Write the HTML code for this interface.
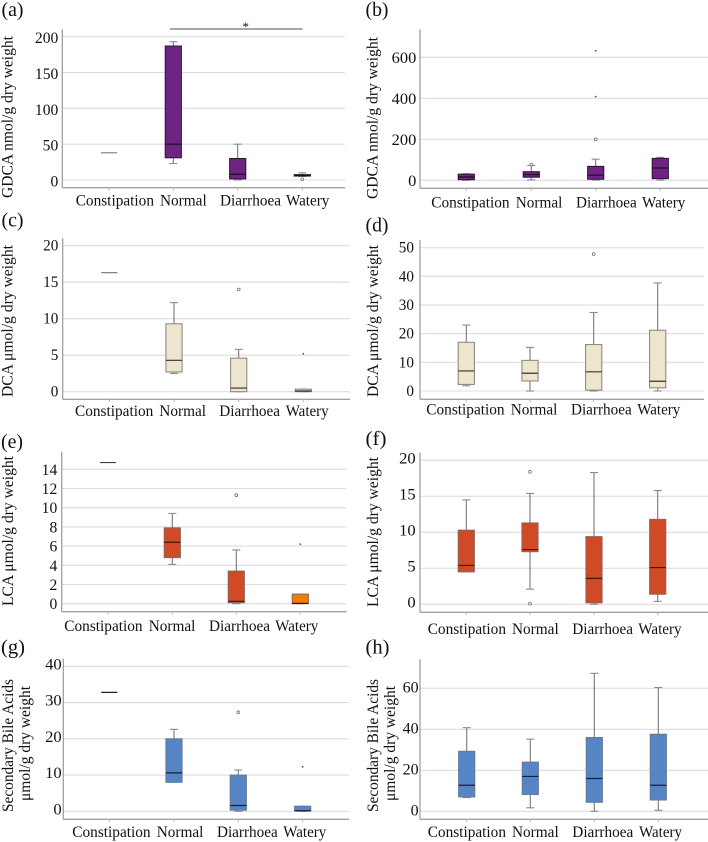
<!DOCTYPE html>
<html lang="en">
<head>
<meta charset="utf-8">
<title>Bile acid box plots</title>
<style>
html,body{margin:0;padding:0;background:#fff;}
#figure{display:block;width:708px;height:842px;font-family:"Liberation Serif",serif;fill:#111;filter:blur(0.35px);}
#figure text{font-family:"Liberation Serif",serif;fill:#111;}
</style>
</head>
<body>
<svg id="figure" width="708" height="842" viewBox="0 0 708 842" xmlns="http://www.w3.org/2000/svg">
  <text x="1.5" y="16" font-size="20" textLength="22" lengthAdjust="spacingAndGlyphs">(a)</text>
  <text x="365.5" y="16" font-size="20" textLength="23" lengthAdjust="spacingAndGlyphs">(b)</text>
  <text x="1.5" y="226.5" font-size="20" textLength="22" lengthAdjust="spacingAndGlyphs">(c)</text>
  <text x="365.5" y="231.5" font-size="20" textLength="23" lengthAdjust="spacingAndGlyphs">(d)</text>
  <text x="1" y="448" font-size="20" textLength="22" lengthAdjust="spacingAndGlyphs">(e)</text>
  <text x="365.5" y="445" font-size="20" textLength="21" lengthAdjust="spacingAndGlyphs">(f)</text>
  <text x="1" y="653.5" font-size="20" textLength="24" lengthAdjust="spacingAndGlyphs">(g)</text>
  <text x="365.5" y="653.5" font-size="20" textLength="24" lengthAdjust="spacingAndGlyphs">(h)</text>

  <text transform="translate(12.5,198) rotate(-90)" font-size="15.5" textLength="162" lengthAdjust="spacingAndGlyphs">GDCA nmol/g dry weight</text>
  <text transform="translate(377.5,199) rotate(-90)" font-size="15.5" textLength="162" lengthAdjust="spacingAndGlyphs">GDCA nmol/g dry weight</text>
  <text transform="translate(12.5,397) rotate(-90)" font-size="15.5" textLength="152" lengthAdjust="spacingAndGlyphs">DCA μmol/g dry weight</text>
  <text transform="translate(378,397) rotate(-90)" font-size="15.5" textLength="152" lengthAdjust="spacingAndGlyphs">DCA μmol/g dry weight</text>
  <text transform="translate(13,606) rotate(-90)" font-size="15.5" textLength="150" lengthAdjust="spacingAndGlyphs">LCA μmol/g dry weight</text>
  <text transform="translate(378,607) rotate(-90)" font-size="15.5" textLength="150" lengthAdjust="spacingAndGlyphs">LCA μmol/g dry weight</text>
  <text transform="translate(13,812) rotate(-90)" font-size="15.5" textLength="133" lengthAdjust="spacingAndGlyphs">Secondary Bile Acids</text>
  <text transform="translate(30,801) rotate(-90)" font-size="15.5" textLength="115" lengthAdjust="spacingAndGlyphs">μmol/g dry weight</text>
  <text transform="translate(378,812) rotate(-90)" font-size="15.5" textLength="133" lengthAdjust="spacingAndGlyphs">Secondary Bile Acids</text>
  <text transform="translate(395,801) rotate(-90)" font-size="15.5" textLength="115" lengthAdjust="spacingAndGlyphs">μmol/g dry weight</text>

  <line x1="170" y1="29" x2="302.7" y2="29" stroke="#8c8c8c" stroke-width="1.4"/>
  <text x="245.7" y="31" font-size="13" text-anchor="middle">*</text>
</svg>
<script>
const categories = ['Constipation', 'Normal', 'Diarrhoea', 'Watery'];

const ticksA = [0, 50, 100, 150, 200];
const whiskerLowA = [38, 23, 0, 5];
const q1A = [38, 31, 1.5, 5.5];
const medianA = [38, 50, 8, 6.5];
const q3A = [38, 187, 30, 7.5];
const whiskerHighA = [38, 193, 50, 10];
const circlesA = [[], [], [], [1]];
const starsA = [[], [], [], []];

const ticksB = [0, 200, 400, 600];
const whiskerLowB = [0, 2, 1, 1];
const q1B = [3, 15, 5, 8];
const medianB = [16, 28, 25, 60];
const q3B = [30, 42, 68, 107];
const whiskerHighB = [32, 72, 103, 112];
const circlesB = [[], [77], [200], []];
const starsB = [[], [], [408, 632], []];

const ticksC = [0, 5, 10, 15, 20];
const whiskerLowC = [16.3, 2.5, 0, 0];
const q1C = [16.3, 2.7, 0, 0];
const medianC = [16.3, 4.3, 0.5, 0.1];
const q3C = [16.3, 9.3, 4.6, 0.35];
const whiskerHighC = [16.3, 12.2, 5.8, 0.35];
const circlesC = [[], [], [14], []];
const starsC = [[], [], [], [5.2]];

const ticksD = [0, 10, 20, 30, 40, 50];
const whiskerLowD = [1.8, 0, 0, 0];
const q1D = [2.3, 3.5, 0.3, 1.1];
const medianD = [7, 6.2, 6.7, 3.4];
const q3D = [17, 10.7, 16.2, 21.2];
const whiskerHighD = [23, 15.2, 27.4, 37.7];
const circlesD = [[], [], [47.8], []];
const starsD = [[], [], [], []];

const ticksE = [0, 2, 4, 6, 8, 10, 12, 14];
const whiskerLowE = [14.7, 4.1, 0, 0];
const q1E = [14.7, 4.8, 0.1, 0];
const medianE = [14.7, 6.4, 0.25, 0.03];
const q3E = [14.7, 7.9, 3.4, 1];
const whiskerHighE = [14.7, 9.4, 5.6, 1];
const circlesE = [[], [], [11.3], []];
const starsE = [[], [], [], [6.2]];

const ticksF = [0, 5, 10, 15, 20];
const whiskerLowF = [4.5, 2.1, 0, 0.4];
const q1F = [4.5, 7.3, 0.2, 1.4];
const medianF = [5.4, 7.6, 3.6, 5.1];
const q3F = [10.3, 11.3, 9.4, 11.8];
const whiskerHighF = [14.5, 15.4, 18.3, 15.8];
const circlesF = [[], [18.4, 0.1], [], []];
const starsF = [[], [], [], []];

const ticksG = [0, 10, 20, 30, 40];
const whiskerLowG = [32.8, 8, 0, 0];
const q1G = [32.8, 8, 0.3, 0.1];
const medianG = [32.8, 10.6, 1.6, 0.15];
const q3G = [32.8, 20, 10, 1.4];
const whiskerHighG = [32.8, 22.6, 11.4, 1.4];
const circlesG = [[], [], [27.3], []];
const starsG = [[], [], [], [12.3]];

const ticksH = [0, 20, 40, 60];
const whiskerLowH = [6.7, 1.7, 0, 0.5];
const q1H = [7, 8.2, 4.4, 5.5];
const medianH = [12.7, 17, 16, 12.7];
const q3H = [29.3, 24, 36, 37.6];
const whiskerHighH = [40.8, 35.2, 67.3, 60.4];
const circlesH = [[], [], [], []];
const starsH = [[], [], [], []];

const PURPLE = {fill: '#6f2382', edge: '#2c1435', med: '#1e0c28'};
const BEIGE = {fill: '#ede5cd', edge: '#85817a', med: '#3d3229'};
const RED = {fill: '#cf4a25', edge: '#8a6660', med: '#4d1508'};
const BLUE = {fill: '#5585c5', edge: '#667a96', med: '#101f3a'};

const panels = [
  {id: 'a', ticks: ticksA, low: whiskerLowA, q1: q1A, med: medianA, q3: q3A, high: whiskerHighA, circles: circlesA, stars: starsA,
   axisX: 62.3, top: 29.5, bottom: 187.7, right: 345, zeroY: 180, maxY: 36.7, centers: [109, 173.3, 237.7, 302.3],
   spans: [[75.7, 78.3], [160, 46.7], [220, 61], [286, 43.3]], base: 205.7, tickRight: 58.3, digit: 7.8, tickDy: 1.5, color: PURPLE, single: '#8a8a8a'},
  {id: 'b', ticks: ticksB, low: whiskerLowB, q1: q1B, med: medianB, q3: q3B, high: whiskerHighB, circles: circlesB, stars: starsB,
   axisX: 420, top: 29.3, bottom: 188.3, right: 708, zeroY: 180.3, maxY: 57.3, centers: [466.3, 531.3, 595.7, 660.3],
   spans: [[431.3, 78.3], [515.7, 46.7], [576, 60.7], [642, 43.3]], base: 207.7, tickRight: 416.3, digit: 8.2, tickDy: 0.5, color: PURPLE, single: '#8a8a8a'},
  {id: 'c', ticks: ticksC, low: whiskerLowC, q1: q1C, med: medianC, q3: q3C, high: whiskerHighC, circles: circlesC, stars: starsC,
   axisX: 62.7, top: 238.3, bottom: 399.3, right: 350, zeroY: 391.7, maxY: 245.7, centers: [109.3, 174, 238.7, 303.3],
   spans: [[75, 78.3], [159.3, 46.7], [219.3, 60.7], [285.7, 43]], base: 416, tickRight: 58.3, digit: 7.6, tickDy: 0, color: BEIGE, single: '#77736e'},
  {id: 'd', ticks: ticksD, low: whiskerLowD, q1: q1D, med: medianD, q3: q3D, high: whiskerHighD, circles: circlesD, stars: starsD,
   axisX: 420, top: 240, bottom: 399.3, right: 704, zeroY: 391, maxY: 247.7, centers: [466.3, 530, 593.7, 657.7],
   spans: [[426.3, 78.3], [510.7, 46.7], [571, 60.7], [637.3, 43]], base: 414.3, tickRight: 414, digit: 7.6, tickDy: 0, color: BEIGE, single: '#77736e'},
  {id: 'e', ticks: ticksE, low: whiskerLowE, q1: q1E, med: medianE, q3: q3E, high: whiskerHighE, circles: circlesE, stars: starsE,
   axisX: 61.7, top: 451.7, bottom: 611.7, right: 346.7, zeroY: 603.7, maxY: 469.3, centers: [108, 172.3, 236.3, 300.3],
   spans: [[64.3, 78.3], [148.7, 46.7], [209, 61], [275.3, 43]], base: 631, tickRight: 57.3, digit: 7.8, tickDy: 0.5, color: RED, single: '#444444', overrideFill: {3: '#ec8000'}},
  {id: 'f', ticks: ticksF, low: whiskerLowF, q1: q1F, med: medianF, q3: q3F, high: whiskerHighF, circles: circlesF, stars: starsF,
   axisX: 420, top: 452.7, bottom: 612.3, right: 708, zeroY: 604.3, maxY: 460.3, centers: [466.3, 530, 594, 657.7],
   spans: [[427.7, 78.3], [512, 46.7], [572.3, 60.7], [638.3, 43.3]], base: 634, tickRight: 415.7, digit: 8.3, tickDy: -2, color: RED, single: '#444444'},
  {id: 'g', ticks: ticksG, low: whiskerLowG, q1: q1G, med: medianG, q3: q3G, high: whiskerHighG, circles: circlesG, stars: starsG,
   axisX: 63.3, top: 658.7, bottom: 819.3, right: 349, zeroY: 811.3, maxY: 666.3, centers: [109.3, 174, 238.3, 302.7],
   spans: [[72.3, 78.3], [156.7, 46.7], [217, 60.7], [283.3, 43]], base: 837, tickRight: 61.7, digit: 8.3, tickDy: -2, color: BLUE, single: '#222222'},
  {id: 'h', ticks: ticksH, low: whiskerLowH, q1: q1H, med: medianH, q3: q3H, high: whiskerHighH, circles: circlesH, stars: starsH,
   axisX: 420, top: 659.3, bottom: 819.3, right: 708, zeroY: 811.3, maxY: 688.3, centers: [466.7, 530.3, 594.3, 658.3],
   spans: [[427.7, 78.3], [512, 46.7], [572.3, 61], [639, 43]], base: 837, tickRight: 418.7, digit: 8, tickDy: -1, color: BLUE, single: '#222222'}
];

const NS = 'http://www.w3.org/2000/svg';
const figure = document.getElementById('figure');

function shape(parent, tag, attrs) {
  const el = document.createElementNS(NS, tag);
  for (const key in attrs) el.setAttribute(key, attrs[key]);
  parent.appendChild(el);
  return el;
}

function drawPanel(p) {
  const group = shape(figure, 'g', {});
  
  

  const domainMax = p.ticks[p.ticks.length - 1];
  const yScale = function (v) { return p.zeroY - (v / domainMax) * (p.zeroY - p.maxY); };
  const xScale = function (i) { return p.centers[i]; };

  p.ticks.forEach(function (t) {
    const grid = shape(group, 'line', {x1: p.axisX, x2: p.right, y1: yScale(t), y2: yScale(t), stroke: '#dcdce2', 'stroke-width': 1.1});
    
    
    const label = String(t);
    const width = p.digit * label.length;
    const tickText = shape(group, 'text', {x: p.tickRight - width, y: yScale(t) + 5 + p.tickDy, 'font-size': 15.5, textLength: width, lengthAdjust: 'spacingAndGlyphs'});
    tickText.textContent = label;
    
    
  });

  const yAxis = shape(group, 'line', {x1: p.axisX, x2: p.axisX, y1: p.top, y2: p.bottom, stroke: '#a0a0a4', 'stroke-width': 1.3});
  
  
  const xAxis = shape(group, 'line', {x1: p.axisX, x2: p.right, y1: p.bottom, y2: p.bottom, stroke: '#a0a0a4', 'stroke-width': 1.3});
  
  

  categories.forEach(function (name, i) {
    const cx = xScale(i);
    const tick = shape(group, 'line', {x1: cx, x2: cx, y1: p.bottom, y2: p.bottom + 3, stroke: '#b8b8bc', 'stroke-width': 1});
    
    

    const catText = shape(group, 'text', {x: p.spans[i][0], y: p.base, 'font-size': 15.5, textLength: p.spans[i][1], lengthAdjust: 'spacingAndGlyphs'});
    catText.textContent = name;
    
    

    const isSingle = p.q1[i] === p.q3[i] && p.low[i] === p.high[i];
    const halfBox = 8.1;
    const halfCap = 4;
    const fill = (p.overrideFill && p.overrideFill[i]) || p.color.fill;

    if (!isSingle) {
      const stem = shape(group, 'line', {x1: cx, x2: cx, y1: yScale(p.low[i]), y2: yScale(p.high[i]), stroke: '#77777c', 'stroke-width': 1.1});
      
      
      const capHigh = shape(group, 'line', {x1: cx - halfCap, x2: cx + halfCap, y1: yScale(p.high[i]), y2: yScale(p.high[i]), stroke: '#8a8a90', 'stroke-width': 1.1});
      
      
      const capLow = shape(group, 'line', {x1: cx - halfCap, x2: cx + halfCap, y1: yScale(p.low[i]), y2: yScale(p.low[i]), stroke: '#8a8a90', 'stroke-width': 1.1});
      
      
      const box = shape(group, 'rect', {x: cx - halfBox, y: yScale(p.q3[i]), width: halfBox * 2, height: Math.abs(yScale(p.q1[i]) - yScale(p.q3[i])), fill: fill, stroke: p.color.edge, 'stroke-width': 1});
      
      
    }

    const median = shape(group, 'line', {x1: cx - halfBox, x2: cx + halfBox, y1: yScale(p.med[i]), y2: yScale(p.med[i]), stroke: isSingle ? p.single : p.color.med, 'stroke-width': 1.2});
    
    

    p.circles[i].forEach(function (v) {
      const dot = shape(group, 'circle', {cx: cx, cy: yScale(v), r: 1.4, fill: '#fff', stroke: '#707078', 'stroke-width': 0.8});
      
      
    });
    p.stars[i].forEach(function (v) {
      const star = shape(group, 'circle', {cx: cx, cy: yScale(v), r: 0.9, fill: '#4a4a52'});
      
      
    });
  });
}

panels.forEach(drawPanel);
</script>
</body>
</html>
